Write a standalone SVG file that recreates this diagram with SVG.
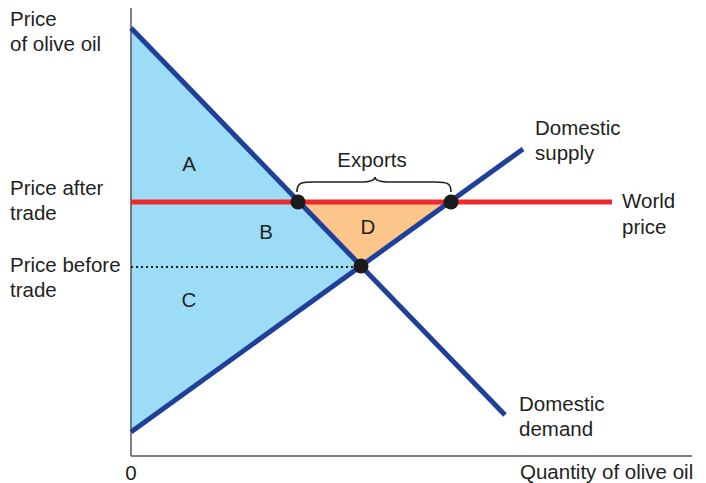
<svg xmlns="http://www.w3.org/2000/svg" width="706" height="483" viewBox="0 0 706 483">
<style>
text{font-family:"Liberation Sans",Arial,sans-serif;font-size:20.5px;fill:#231f20}
.ax{stroke:#555;stroke-width:1.5;fill:none}
.curve{stroke:#1f3f99;stroke-width:5;fill:none;stroke-linecap:butt}
.world{stroke:#ee2a2e;stroke-width:5;fill:none}
.dot{fill:#1a1a1a}
.lbl{text-anchor:middle}
</style>
<rect width="706" height="483" fill="#fff"/>
<g id="areas">
<polygon points="131,28 361,266 131,432" fill="#9ddcf7"/>
<polygon points="298,202 451,202 361,266" fill="#fcc68b"/>
</g>
<g id="axes">
<line class="ax" x1="131" y1="8" x2="131" y2="456"/>
<line class="ax" x1="131" y1="456" x2="692" y2="456"/>
</g>
<g id="connectors">
<line x1="131" y1="267" x2="361" y2="267" stroke="#231f20" stroke-width="2" stroke-dasharray="2,3"/>
<line id="world-price" class="world" x1="131" y1="202" x2="612" y2="202"/>
<line id="demand" class="curve" x1="131" y1="28" x2="505" y2="415"/>
<line id="supply" class="curve" x1="131" y1="432" x2="523" y2="149"/>
<path id="brace" d="M297,192 C297,182 302,182 315,182 L360,182 C370,182 375,180 375,177 C375,180 380,182 390,182 L435,182 C447,182 451,183 451,192" fill="none" stroke="#231f20" stroke-width="1.6"/>
</g>
<g id="points">
<circle class="dot" cx="298" cy="202" r="7.5"/>
<circle class="dot" cx="451" cy="202" r="7.5"/>
<circle class="dot" cx="361" cy="266" r="7.5"/>
</g>
<g id="labels">
<text x="10" y="26">Price</text>
<text x="10" y="51">of olive oil</text>
<text x="10" y="195">Price after</text>
<text x="10" y="220">trade</text>
<text x="10" y="272">Price before</text>
<text x="10" y="297">trade</text>
<text class="lbl" x="189" y="171">A</text>
<text class="lbl" x="266" y="239">B</text>
<text class="lbl" x="189" y="307">C</text>
<text class="lbl" x="368" y="234">D</text>
<text class="lbl" x="372" y="167">Exports</text>
<text x="535" y="135">Domestic</text>
<text x="535" y="160">supply</text>
<text x="622" y="208">World</text>
<text x="622" y="234">price</text>
<text x="519" y="411">Domestic</text>
<text x="519" y="436">demand</text>
<text class="lbl" x="131" y="480">0</text>
<text x="520" y="479">Quantity of olive oil</text>
</g>
</svg>
